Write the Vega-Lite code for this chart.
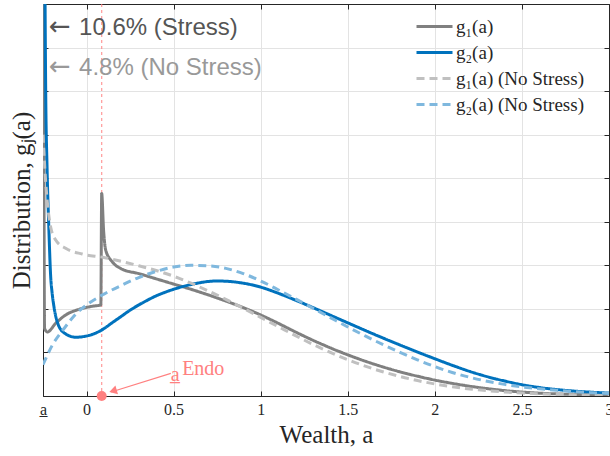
{
  "$schema": "https://vega.github.io/schema/vega-lite/v6.json",
  "width": 566,
  "height": 392,
  "autosize": "none",
  "padding": {"left": 43, "top": 4, "right": 1, "bottom": 60},
  "background": "white",
  "config": {"view": {"stroke": null}},
  "datasets": {
    "curves": [
      {"s": "g₁(a)", "a": -0.25, "g": 20},
      {"s": "g₁(a)", "a": -0.241, "g": 1.55},
      {"s": "g₁(a)", "a": -0.225, "g": 1.47},
      {"s": "g₁(a)", "a": -0.177, "g": 1.67},
      {"s": "g₁(a)", "a": -0.12, "g": 1.86},
      {"s": "g₁(a)", "a": -0.043, "g": 1.99},
      {"s": "g₁(a)", "a": 0.033, "g": 2.06},
      {"s": "g₁(a)", "a": 0.082, "g": 2.09},
      {"s": "g₁(a)", "a": 0.087, "g": 4.65},
      {"s": "g₁(a)", "a": 0.098, "g": 3.8},
      {"s": "g₁(a)", "a": 0.11, "g": 3.35},
      {"s": "g₁(a)", "a": 0.148, "g": 3.08},
      {"s": "g₁(a)", "a": 0.2, "g": 2.92},
      {"s": "g₁(a)", "a": 0.3, "g": 2.81},
      {"s": "g₁(a)", "a": 0.4, "g": 2.69},
      {"s": "g₁(a)", "a": 0.5, "g": 2.57},
      {"s": "g₁(a)", "a": 0.6, "g": 2.45},
      {"s": "g₁(a)", "a": 0.7, "g": 2.32},
      {"s": "g₁(a)", "a": 0.8, "g": 2.18},
      {"s": "g₁(a)", "a": 0.9, "g": 2.03},
      {"s": "g₁(a)", "a": 1.0, "g": 1.86},
      {"s": "g₁(a)", "a": 1.1, "g": 1.67},
      {"s": "g₁(a)", "a": 1.2, "g": 1.47},
      {"s": "g₁(a)", "a": 1.3, "g": 1.28},
      {"s": "g₁(a)", "a": 1.4, "g": 1.105},
      {"s": "g₁(a)", "a": 1.5, "g": 0.945},
      {"s": "g₁(a)", "a": 1.6, "g": 0.8},
      {"s": "g₁(a)", "a": 1.7, "g": 0.67},
      {"s": "g₁(a)", "a": 1.8, "g": 0.555},
      {"s": "g₁(a)", "a": 1.9, "g": 0.455},
      {"s": "g₁(a)", "a": 2.0, "g": 0.365},
      {"s": "g₁(a)", "a": 2.1, "g": 0.29},
      {"s": "g₁(a)", "a": 2.2, "g": 0.225},
      {"s": "g₁(a)", "a": 2.3, "g": 0.17},
      {"s": "g₁(a)", "a": 2.4, "g": 0.125},
      {"s": "g₁(a)", "a": 2.5, "g": 0.09},
      {"s": "g₁(a)", "a": 2.6, "g": 0.065},
      {"s": "g₁(a)", "a": 2.7, "g": 0.048},
      {"s": "g₁(a)", "a": 2.8, "g": 0.037},
      {"s": "g₁(a)", "a": 2.9, "g": 0.03},
      {"s": "g₁(a)", "a": 3.0, "g": 0.025},

      {"s": "g₂(a)", "a": -0.25, "g": 20},
      {"s": "g₂(a)", "a": -0.234, "g": 6.8},
      {"s": "g₂(a)", "a": -0.227, "g": 5.3},
      {"s": "g₂(a)", "a": -0.216, "g": 3.8},
      {"s": "g₂(a)", "a": -0.206, "g": 2.75},
      {"s": "g₂(a)", "a": -0.198, "g": 2.38},
      {"s": "g₂(a)", "a": -0.187, "g": 2.05},
      {"s": "g₂(a)", "a": -0.168, "g": 1.7},
      {"s": "g₂(a)", "a": -0.129, "g": 1.45},
      {"s": "g₂(a)", "a": -0.062, "g": 1.35},
      {"s": "g₂(a)", "a": 0.014, "g": 1.39},
      {"s": "g₂(a)", "a": 0.085, "g": 1.51},
      {"s": "g₂(a)", "a": 0.15, "g": 1.69},
      {"s": "g₂(a)", "a": 0.2, "g": 1.83},
      {"s": "g₂(a)", "a": 0.25, "g": 1.97},
      {"s": "g₂(a)", "a": 0.3, "g": 2.09},
      {"s": "g₂(a)", "a": 0.35, "g": 2.2},
      {"s": "g₂(a)", "a": 0.4, "g": 2.3},
      {"s": "g₂(a)", "a": 0.45, "g": 2.38},
      {"s": "g₂(a)", "a": 0.5, "g": 2.45},
      {"s": "g₂(a)", "a": 0.55, "g": 2.51},
      {"s": "g₂(a)", "a": 0.6, "g": 2.56},
      {"s": "g₂(a)", "a": 0.65, "g": 2.6},
      {"s": "g₂(a)", "a": 0.7, "g": 2.63},
      {"s": "g₂(a)", "a": 0.75, "g": 2.64},
      {"s": "g₂(a)", "a": 0.8, "g": 2.635},
      {"s": "g₂(a)", "a": 0.9, "g": 2.59},
      {"s": "g₂(a)", "a": 1.0, "g": 2.5},
      {"s": "g₂(a)", "a": 1.1, "g": 2.36},
      {"s": "g₂(a)", "a": 1.2, "g": 2.2},
      {"s": "g₂(a)", "a": 1.3, "g": 2.03},
      {"s": "g₂(a)", "a": 1.4, "g": 1.855},
      {"s": "g₂(a)", "a": 1.5, "g": 1.68},
      {"s": "g₂(a)", "a": 1.6, "g": 1.505},
      {"s": "g₂(a)", "a": 1.7, "g": 1.335},
      {"s": "g₂(a)", "a": 1.8, "g": 1.17},
      {"s": "g₂(a)", "a": 1.9, "g": 1.01},
      {"s": "g₂(a)", "a": 2.0, "g": 0.855},
      {"s": "g₂(a)", "a": 2.1, "g": 0.705},
      {"s": "g₂(a)", "a": 2.2, "g": 0.565},
      {"s": "g₂(a)", "a": 2.3, "g": 0.445},
      {"s": "g₂(a)", "a": 2.4, "g": 0.345},
      {"s": "g₂(a)", "a": 2.5, "g": 0.26},
      {"s": "g₂(a)", "a": 2.6, "g": 0.195},
      {"s": "g₂(a)", "a": 2.7, "g": 0.148},
      {"s": "g₂(a)", "a": 2.8, "g": 0.113},
      {"s": "g₂(a)", "a": 2.9, "g": 0.087},
      {"s": "g₂(a)", "a": 3.0, "g": 0.067},

      {"s": "g₁(a) (No Stress)", "a": -0.25, "g": 6},
      {"s": "g₁(a) (No Stress)", "a": -0.236, "g": 5.0},
      {"s": "g₁(a) (No Stress)", "a": -0.225, "g": 4.45},
      {"s": "g₁(a) (No Stress)", "a": -0.206, "g": 3.88},
      {"s": "g₁(a) (No Stress)", "a": -0.177, "g": 3.58},
      {"s": "g₁(a) (No Stress)", "a": -0.12, "g": 3.39},
      {"s": "g₁(a) (No Stress)", "a": -0.025, "g": 3.26},
      {"s": "g₁(a) (No Stress)", "a": 0.1, "g": 3.18},
      {"s": "g₁(a) (No Stress)", "a": 0.2, "g": 3.09},
      {"s": "g₁(a) (No Stress)", "a": 0.3, "g": 2.99},
      {"s": "g₁(a) (No Stress)", "a": 0.4, "g": 2.88},
      {"s": "g₁(a) (No Stress)", "a": 0.5, "g": 2.75},
      {"s": "g₁(a) (No Stress)", "a": 0.6, "g": 2.59},
      {"s": "g₁(a) (No Stress)", "a": 0.7, "g": 2.41},
      {"s": "g₁(a) (No Stress)", "a": 0.8, "g": 2.22},
      {"s": "g₁(a) (No Stress)", "a": 0.9, "g": 2.015},
      {"s": "g₁(a) (No Stress)", "a": 1.0, "g": 1.805},
      {"s": "g₁(a) (No Stress)", "a": 1.1, "g": 1.595},
      {"s": "g₁(a) (No Stress)", "a": 1.2, "g": 1.385},
      {"s": "g₁(a) (No Stress)", "a": 1.3, "g": 1.185},
      {"s": "g₁(a) (No Stress)", "a": 1.4, "g": 1.0},
      {"s": "g₁(a) (No Stress)", "a": 1.5, "g": 0.833},
      {"s": "g₁(a) (No Stress)", "a": 1.6, "g": 0.686},
      {"s": "g₁(a) (No Stress)", "a": 1.7, "g": 0.558},
      {"s": "g₁(a) (No Stress)", "a": 1.8, "g": 0.448},
      {"s": "g₁(a) (No Stress)", "a": 1.9, "g": 0.355},
      {"s": "g₁(a) (No Stress)", "a": 2.0, "g": 0.276},
      {"s": "g₁(a) (No Stress)", "a": 2.1, "g": 0.212},
      {"s": "g₁(a) (No Stress)", "a": 2.2, "g": 0.162},
      {"s": "g₁(a) (No Stress)", "a": 2.3, "g": 0.123},
      {"s": "g₁(a) (No Stress)", "a": 2.4, "g": 0.093},
      {"s": "g₁(a) (No Stress)", "a": 2.5, "g": 0.069},
      {"s": "g₁(a) (No Stress)", "a": 2.6, "g": 0.051},
      {"s": "g₁(a) (No Stress)", "a": 2.7, "g": 0.037},
      {"s": "g₁(a) (No Stress)", "a": 2.8, "g": 0.026},
      {"s": "g₁(a) (No Stress)", "a": 2.9, "g": 0.018},
      {"s": "g₁(a) (No Stress)", "a": 3.0, "g": 0.012},

      {"s": "g₂(a) (No Stress)", "a": -0.25, "g": 0.72},
      {"s": "g₂(a) (No Stress)", "a": -0.196, "g": 1.17},
      {"s": "g₂(a) (No Stress)", "a": -0.129, "g": 1.55},
      {"s": "g₂(a) (No Stress)", "a": -0.062, "g": 1.88},
      {"s": "g₂(a) (No Stress)", "a": 0.014, "g": 2.13},
      {"s": "g₂(a) (No Stress)", "a": 0.1, "g": 2.34},
      {"s": "g₂(a) (No Stress)", "a": 0.2, "g": 2.54},
      {"s": "g₂(a) (No Stress)", "a": 0.3, "g": 2.72},
      {"s": "g₂(a) (No Stress)", "a": 0.4, "g": 2.86},
      {"s": "g₂(a) (No Stress)", "a": 0.5, "g": 2.96},
      {"s": "g₂(a) (No Stress)", "a": 0.6, "g": 3.0},
      {"s": "g₂(a) (No Stress)", "a": 0.7, "g": 2.99},
      {"s": "g₂(a) (No Stress)", "a": 0.8, "g": 2.93},
      {"s": "g₂(a) (No Stress)", "a": 0.9, "g": 2.81},
      {"s": "g₂(a) (No Stress)", "a": 1.0, "g": 2.64},
      {"s": "g₂(a) (No Stress)", "a": 1.1, "g": 2.44},
      {"s": "g₂(a) (No Stress)", "a": 1.2, "g": 2.23},
      {"s": "g₂(a) (No Stress)", "a": 1.3, "g": 2.015},
      {"s": "g₂(a) (No Stress)", "a": 1.4, "g": 1.8},
      {"s": "g₂(a) (No Stress)", "a": 1.5, "g": 1.585},
      {"s": "g₂(a) (No Stress)", "a": 1.6, "g": 1.38},
      {"s": "g₂(a) (No Stress)", "a": 1.7, "g": 1.185},
      {"s": "g₂(a) (No Stress)", "a": 1.8, "g": 1.0},
      {"s": "g₂(a) (No Stress)", "a": 1.9, "g": 0.83},
      {"s": "g₂(a) (No Stress)", "a": 2.0, "g": 0.675},
      {"s": "g₂(a) (No Stress)", "a": 2.1, "g": 0.54},
      {"s": "g₂(a) (No Stress)", "a": 2.2, "g": 0.43},
      {"s": "g₂(a) (No Stress)", "a": 2.3, "g": 0.34},
      {"s": "g₂(a) (No Stress)", "a": 2.4, "g": 0.267},
      {"s": "g₂(a) (No Stress)", "a": 2.5, "g": 0.21},
      {"s": "g₂(a) (No Stress)", "a": 2.6, "g": 0.165},
      {"s": "g₂(a) (No Stress)", "a": 2.7, "g": 0.13},
      {"s": "g₂(a) (No Stress)", "a": 2.8, "g": 0.1},
      {"s": "g₂(a) (No Stress)", "a": 2.9, "g": 0.076},
      {"s": "g₂(a) (No Stress)", "a": 3.0, "g": 0.057}
    ],
    "endo": [{"a": 0.087, "g": 0}],
    "arrow": [{"a": 0.484, "g": 0.52, "a2": 0.141, "g2": 0.092}],
    "head": [{"a": 0.152, "g": 0.115}],
    "stressArrow": [{"a": -0.2155, "g": 8.28, "t": "←"}],
    "stressLabel": [{"a": -0.043, "g": 8.28, "t": "10.6% (Stress)"}],
    "noStressArrow": [{"a": -0.2155, "g": 7.36, "t": "←"}],
    "noStressLabel": [{"a": -0.043, "g": 7.36, "t": "4.8% (No Stress)"}],
    "endoA": [{"a": 0.509, "g": 0.344, "t": "a̲"}],
    "endoSup": [{"a": 0.549, "g": 0.48, "t": "Endo"}]
  },
  "resolve": {"axis": {"x": "independent", "y": "independent"}},
  "layer": [
    {
      "layer": [
        {
          "data": {"name": "endo"},
          "mark": {"type": "rule", "color": "#ff8080", "opacity": 0.8, "strokeDash": [3, 3], "strokeWidth": 1.2},
          "encoding": {
            "x": {"field": "a", "type": "quantitative", "scale": {"domain": [-0.25, 3], "nice": false, "zero": false}}
          }
        },
        {
          "data": {"name": "curves"},
          "mark": {"type": "line", "clip": true, "interpolate": "monotone"},
          "encoding": {
            "x": {
              "field": "a", "type": "quantitative",
              "scale": {"domain": [-0.25, 3], "nice": false, "zero": false},
              "axis": {
                "title": "Wealth, a",
                "values": [-0.25, 0, 0.5, 1, 1.5, 2, 2.5, 3],
                "labelExpr": "datum.value == -0.25 ? 'a\u0332' : format(datum.value, '~g')",
                "labelFlush": false, "labelOverlap": false,
                "labelFont": "Liberation Serif", "labelFontSize": 16, "labelColor": "#262626", "labelPadding": 10,
                "tickSize": -5, "tickColor": "#262626", "domainColor": "#262626",
                "grid": true, "gridColor": "#e3e3e3",
                "titleFont": "Liberation Serif", "titleFontSize": 25, "titleFontWeight": "normal", "titleColor": "#262626", "titlePadding": 5
              }
            },
            "y": {
              "field": "g", "type": "quantitative",
              "scale": {"domain": [0, 9], "nice": false, "zero": false},
              "axis": {
                "title": "Distribution, gⱼ(a)",
                "values": [0, 1, 2, 3, 4, 5, 6, 7, 8, 9],
                "labels": false,
                "tickSize": -5, "tickColor": "#262626", "domainColor": "#262626",
                "grid": true, "gridColor": "#e3e3e3",
                "titleFont": "Liberation Serif", "titleFontSize": 25, "titleFontWeight": "normal", "titleColor": "#262626", "titlePadding": 8
              }
            },
            "color": {
              "field": "s", "type": "nominal",
              "scale": {"domain": ["g₁(a)", "g₂(a)", "g₁(a) (No Stress)", "g₂(a) (No Stress)"], "range": ["#808080", "#0072bd", "#c0c0c0", "#7fb8de"]},
              "legend": {
                "orient": "none", "legendX": 380, "legendY": 11, "title": null,
                "symbolType": "M-1.8,0H1.8", "symbolSize": 400, "symbolStrokeWidth": 3,
                "labelFont": "Liberation Serif", "labelFontSize": 19, "labelColor": "#262626",
                "labelOffset": 10, "rowPadding": 4, "padding": 0, "direction": "vertical"
              }
            },
            "strokeDash": {
              "field": "s", "type": "nominal",
              "scale": {"domain": ["g₁(a)", "g₂(a)", "g₁(a) (No Stress)", "g₂(a) (No Stress)"], "range": [[1, 0], [1, 0], [8, 5], [8, 5]]}
            },
            "strokeWidth": {
              "field": "s", "type": "nominal",
              "scale": {"domain": ["g₁(a)", "g₂(a)", "g₁(a) (No Stress)", "g₂(a) (No Stress)"], "range": [3, 3, 2.5, 2.5]},
              "legend": null
            }
          }
        },
        {
          "data": {"name": "stressArrow"},
          "mark": {"type": "text", "align": "left", "baseline": "alphabetic", "font": "DejaVu Sans", "fontSize": 26, "color": "#555555"},
          "encoding": {
            "x": {"field": "a", "type": "quantitative", "scale": {"domain": [-0.25, 3], "nice": false, "zero": false}},
            "y": {"field": "g", "type": "quantitative", "scale": {"domain": [0, 9], "nice": false, "zero": false}},
            "text": {"field": "t"}
          }
        },
        {
          "data": {"name": "stressLabel"},
          "mark": {"type": "text", "align": "left", "baseline": "alphabetic", "font": "Liberation Sans", "fontSize": 24, "color": "#555555"},
          "encoding": {
            "x": {"field": "a", "type": "quantitative", "scale": {"domain": [-0.25, 3], "nice": false, "zero": false}},
            "y": {"field": "g", "type": "quantitative", "scale": {"domain": [0, 9], "nice": false, "zero": false}},
            "text": {"field": "t"}
          }
        },
        {
          "data": {"name": "noStressArrow"},
          "mark": {"type": "text", "align": "left", "baseline": "alphabetic", "font": "DejaVu Sans", "fontSize": 26, "color": "#999999"},
          "encoding": {
            "x": {"field": "a", "type": "quantitative", "scale": {"domain": [-0.25, 3], "nice": false, "zero": false}},
            "y": {"field": "g", "type": "quantitative", "scale": {"domain": [0, 9], "nice": false, "zero": false}},
            "text": {"field": "t"}
          }
        },
        {
          "data": {"name": "noStressLabel"},
          "mark": {"type": "text", "align": "left", "baseline": "alphabetic", "font": "Liberation Sans", "fontSize": 24, "color": "#999999"},
          "encoding": {
            "x": {"field": "a", "type": "quantitative", "scale": {"domain": [-0.25, 3], "nice": false, "zero": false}},
            "y": {"field": "g", "type": "quantitative", "scale": {"domain": [0, 9], "nice": false, "zero": false}},
            "text": {"field": "t"}
          }
        },
        {
          "data": {"name": "arrow"},
          "mark": {"type": "rule", "color": "#ff8080", "strokeWidth": 1.2},
          "encoding": {
            "x": {"field": "a", "type": "quantitative", "scale": {"domain": [-0.25, 3], "nice": false, "zero": false}},
            "y": {"field": "g", "type": "quantitative", "scale": {"domain": [0, 9], "nice": false, "zero": false}},
            "x2": {"field": "a2"},
            "y2": {"field": "g2"}
          }
        },
        {
          "data": {"name": "head"},
          "mark": {"type": "point", "shape": "triangle-up", "filled": true, "color": "#ff8080", "opacity": 1, "size": 80, "angle": 253},
          "encoding": {
            "x": {"field": "a", "type": "quantitative", "scale": {"domain": [-0.25, 3], "nice": false, "zero": false}},
            "y": {"field": "g", "type": "quantitative", "scale": {"domain": [0, 9], "nice": false, "zero": false}}
          }
        },
        {
          "data": {"name": "endo"},
          "mark": {"type": "point", "shape": "circle", "filled": true, "color": "#ff8080", "opacity": 1, "size": 100, "clip": false},
          "encoding": {
            "x": {"field": "a", "type": "quantitative", "scale": {"domain": [-0.25, 3], "nice": false, "zero": false}},
            "y": {"field": "g", "type": "quantitative", "scale": {"domain": [0, 9], "nice": false, "zero": false}}
          }
        },
        {
          "data": {"name": "endoA"},
          "mark": {"type": "text", "align": "center", "baseline": "alphabetic", "font": "Liberation Serif", "fontSize": 20, "color": "#ff8080"},
          "encoding": {
            "x": {"field": "a", "type": "quantitative", "scale": {"domain": [-0.25, 3], "nice": false, "zero": false}},
            "y": {"field": "g", "type": "quantitative", "scale": {"domain": [0, 9], "nice": false, "zero": false}},
            "text": {"field": "t"}
          }
        },
        {
          "data": {"name": "endoSup"},
          "mark": {"type": "text", "align": "left", "baseline": "alphabetic", "font": "Liberation Serif", "fontSize": 20, "color": "#ff8080"},
          "encoding": {
            "x": {"field": "a", "type": "quantitative", "scale": {"domain": [-0.25, 3], "nice": false, "zero": false}},
            "y": {"field": "g", "type": "quantitative", "scale": {"domain": [0, 9], "nice": false, "zero": false}},
            "text": {"field": "t"}
          }
        }
      ]
    },
    {
      "data": {"name": "endo"},
      "mark": {"type": "point", "opacity": 0},
      "encoding": {
        "x": {
          "field": "a", "type": "quantitative",
          "scale": {"domain": [-0.25, 3], "nice": false, "zero": false},
          "axis": {"orient": "top", "labels": false, "title": null, "values": [-0.25, 0, 0.5, 1, 1.5, 2, 2.5, 3], "tickSize": -5, "tickColor": "#262626", "domainColor": "#262626", "grid": false}
        },
        "y": {
          "field": "g", "type": "quantitative",
          "scale": {"domain": [0, 9], "nice": false, "zero": false},
          "axis": {"orient": "right", "labels": false, "title": null, "values": [0, 1, 2, 3, 4, 5, 6, 7, 8, 9], "tickSize": -5, "tickColor": "#262626", "domainColor": "#262626", "grid": false}
        }
      }
    }
  ]
}
